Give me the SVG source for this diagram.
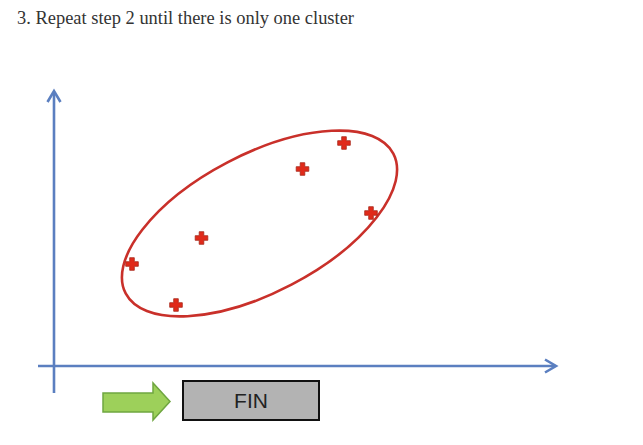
<svg xmlns="http://www.w3.org/2000/svg" width="643" height="445" viewBox="0 0 643 445">
<defs>
<style>
.title{font-family:"Liberation Serif","DejaVu Serif",serif;font-size:18px;fill:#333}
.axis{stroke:#5b7fc0;stroke-width:2.6;fill:none}
.head{stroke:#5b7fc0;stroke-width:2.6;fill:none;stroke-linejoin:miter}
.pt{fill:#e02a1a;stroke:#a8281a;stroke-width:0.8}
.cluster{fill:none;stroke:#c9302a;stroke-width:2.6}
.fin{fill:#b3b3b3;stroke:#111;stroke-width:2}
.fintext{font-family:"Liberation Sans","DejaVu Sans",sans-serif;font-size:21px;fill:#222}
.go{fill:#9dd05a;stroke:#6fa640;stroke-width:1.5}
</style>
<path id="cross" class="pt" d="M-2.3,-6.3 H2.3 V-2.3 H6.3 V2.3 H2.3 V6.3 H-2.3 V2.3 H-6.3 V-2.3 H-2.3 Z"/>
</defs>
<rect width="643" height="445" fill="#fff"/>
<text class="title" x="17" y="24" textLength="337" lengthAdjust="spacingAndGlyphs">3. Repeat step 2 until there is only one cluster</text>
<g id="connectors">
<g id="y-axis">
<line class="axis" x1="54" y1="393" x2="54" y2="92"/>
<polyline class="head" points="47.5,102 54,91 60.5,102"/>
</g>
<g id="x-axis">
<line class="axis" x1="38" y1="366" x2="555" y2="366"/>
<polyline class="head" points="545,359.5 556,366 545,372.5"/>
</g>
</g>
<g id="cluster">
<ellipse class="cluster" cx="259.5" cy="223.5" rx="151" ry="69" transform="rotate(-27.6 259.5 223.5)"/>
</g>
<g id="points">
<use href="#cross" x="344" y="143"/>
<use href="#cross" x="302.5" y="169"/>
<use href="#cross" x="371" y="213"/>
<use href="#cross" x="201.5" y="238"/>
<use href="#cross" x="132" y="264"/>
<use href="#cross" x="176" y="305"/>
</g>
<g id="arrow">
<polygon class="go" points="103,393 153,393 153,383 170,401.5 153,420 153,412 103,412"/>
</g>
<g id="fin">
<rect class="fin" x="183" y="381" width="136" height="39"/>
<text class="fintext" x="251" y="408" text-anchor="middle">FIN</text>
</g>
</svg>
